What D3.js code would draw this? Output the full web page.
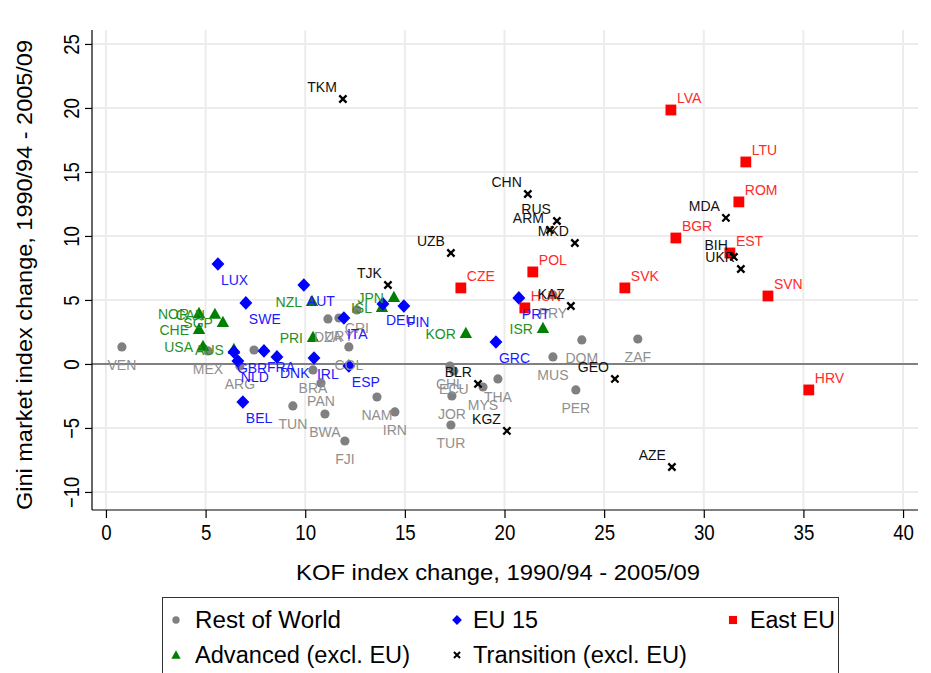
<!DOCTYPE html>
<html>
<head>
<meta charset="utf-8">
<script src="https://cdn.jsdelivr.net/npm/d3@7"></script>
<style>
  html, body { margin: 0; padding: 0; background: #fff; }
  svg { display: block; font-family: "Liberation Sans", Arial, sans-serif; }
</style>
</head>
<body>
<svg id="chart" width="931" height="673"></svg>
<script>
// ---- data: [country, KOF change, Gini market change] ----
const restOfWorld = [
  ["VEN", 0.80, 1.33], ["MEX", 5.12, 1.02], ["ARG", 6.72, -0.16], ["", 7.43, 1.09],
  ["BRA", 10.39, -0.47], ["DZA", 11.14, 3.52], ["URY", 11.69, 3.59], ["CRI", 12.59, 4.22],
  ["COL", 12.19, 1.33], ["PAN", 10.79, -1.48], ["TUN", 9.38, -3.28], ["BWA", 10.99, -3.91],
  ["NAM", 13.60, -2.58], ["IRN", 14.50, -3.75], ["FJI", 11.99, -6.02], ["CHL", 17.26, -0.16],
  ["ECU", 17.46, -0.55], ["JOR", 17.36, -2.50], ["TUR", 17.31, -4.77], ["MYS", 18.92, -1.80],
  ["THA", 19.67, -1.17], ["MUS", 22.43, 0.55], ["DOM", 23.88, 1.88], ["PER", 23.58, -2.03],
  ["ZAF", 26.69, 1.95], ["PRY", 22.43, 5.39]
];
const eu15 = [
  ["LUX", 5.62, 7.81], ["SWE", 7.02, 4.77], ["GBR", 6.42, 0.94], ["NLD", 6.62, 0.23],
  ["FRA", 7.93, 1.02], ["DNK", 8.58, 0.55], ["BEL", 6.87, -2.97], ["AUT", 9.93, 6.17],
  ["IRL", 10.44, 0.47], ["ITA", 11.94, 3.59], ["ESP", 12.19, -0.16], ["DEU", 13.90, 4.69],
  ["FIN", 14.95, 4.53], ["GRC", 19.57, 1.72], ["PRT", 20.72, 5.16]
];
const eastEU = [
  ["CZE", 17.81, 5.94], ["POL", 21.42, 7.19], ["HUN", 21.02, 4.38], ["LVA", 28.35, 19.84],
  ["LTU", 32.11, 15.78], ["ROM", 31.76, 12.66], ["BGR", 28.60, 9.84], ["EST", 31.31, 8.67],
  ["SVK", 26.04, 5.94], ["SVN", 33.22, 5.31], ["HRV", 35.27, -2.03]
];
const advanced = [
  ["NOR", 4.67, 3.98], ["CAN", 5.47, 3.91], ["SGP", 5.87, 3.28], ["CHE", 4.67, 2.73],
  ["USA", 4.87, 1.41], ["AUS", 6.42, 1.17], ["NZL", 10.34, 4.92], ["PRI", 10.39, 2.11],
  ["JPN", 14.45, 5.23], ["ISL", 13.85, 4.45], ["KOR", 18.06, 2.42], ["ISR", 21.93, 2.81]
];
const transition = [
  ["TKM", 11.89, 20.70], ["CHN", 21.17, 13.28], ["RUS", 22.63, 11.17], ["ARM", 22.28, 10.47],
  ["MKD", 23.53, 9.45], ["UZB", 17.31, 8.67], ["TJK", 14.15, 6.17], ["KAZ", 23.33, 4.53],
  ["BLR", 18.67, -1.56], ["KGZ", 20.12, -5.23], ["GEO", 25.54, -1.17], ["AZE", 28.40, -8.05],
  ["MDA", 31.11, 11.41], ["BIH", 31.51, 8.36], ["UKR", 31.86, 7.42]
];
const xTicks = [0, 5, 10, 15, 20, 25, 30, 35, 40];
const yTicks = [-10, -5, 0, 5, 10, 15, 20, 25];
const legendLabels = ["Rest of World", "EU 15", "East EU", "Advanced (excl. EU)", "Transition (excl. EU)"];
const xTitle = "KOF index change, 1990/94 - 2005/09";
const yTitle = "Gini market index change, 1990/94 - 2005/09";

// ---- layout ----
const svg = d3.select("#chart");
const L = 92, R = 918, T = 30, B = 510;
const x = d3.scaleLinear().domain([-0.7, 40.75]).range([L, R]);
const y = d3.scaleLinear().domain([-11.41, 26.09]).range([B, T]);

// gridlines
const grid = svg.append("g");
grid.selectAll("line.v").data(xTicks).join("line")
  .attr("x1", d => x(d)).attr("x2", d => x(d)).attr("y1", T).attr("y2", B)
  .attr("stroke", "#ececec").attr("stroke-width", 2);
grid.selectAll("line.h").data(yTicks.filter(d => d !== 0)).join("line")
  .attr("x1", L).attr("x2", R).attr("y1", d => y(d)).attr("y2", d => y(d))
  .attr("stroke", "#ececec").attr("stroke-width", 2);
// zero line
svg.append("line").attr("x1", L).attr("x2", R).attr("y1", y(0)).attr("y2", y(0))
  .attr("stroke", "#808080").attr("stroke-width", 2);

// axes
const xAxis = d3.axisBottom(x).tickValues(xTicks).tickSize(8).tickPadding(6).tickSizeOuter(0);
const gx = svg.append("g").attr("transform", `translate(0,${B})`).call(xAxis);
gx.select(".domain").attr("d", `M${L},0H${R}`).attr("stroke", "#000").attr("stroke-width", 1.2);
gx.selectAll(".tick line").attr("stroke", "#000").attr("stroke-width", 1.2);
gx.selectAll(".tick text").attr("font-size", 22).attr("fill", "#000")
  .attr("font-family", "Liberation Sans, Arial, sans-serif")
  .attr("textLength", d => String(d).length * 10.4)
  .attr("lengthAdjust", "spacingAndGlyphs");

const yAxis = d3.axisLeft(y).tickValues(yTicks).tickSize(7).tickSizeOuter(0).tickFormat(d3.format("d"));
const gy = svg.append("g").attr("transform", `translate(${L},0)`).call(yAxis);
gy.select(".domain").attr("d", `M0,${T}V${B}`).attr("stroke", "#000").attr("stroke-width", 1.2);
gy.selectAll(".tick line").attr("stroke", "#000").attr("stroke-width", 1.2);
gy.selectAll(".tick text").attr("font-size", 22).attr("fill", "#000")
  .attr("font-family", "Liberation Sans, Arial, sans-serif")
  .attr("x", 0).attr("dy", 0)
  .attr("text-anchor", "middle")
  .attr("transform", "translate(-13,0) rotate(-90)")
  .attr("textLength", d => String(d).length * 10.4)
  .attr("lengthAdjust", "spacingAndGlyphs");

// axis titles
svg.append("text").attr("x", 498).attr("y", 580).attr("text-anchor", "middle")
  .attr("font-size", 22).attr("fill", "#000")
  .attr("textLength", 404).attr("lengthAdjust", "spacingAndGlyphs").text(xTitle);
svg.append("text").attr("transform", `translate(32,275) rotate(-90)`).attr("text-anchor", "middle")
  .attr("font-size", 22).attr("fill", "#000")
  .attr("textLength", 470).attr("lengthAdjust", "spacingAndGlyphs").text(yTitle);

// ---- markers ----
const styles = {
  row:   { color: "#808080", label: "#8f8f8f" },
  eu15:  { color: "#0000ff", label: "#1a1aff" },
  east:  { color: "#ff0000", label: "#ff2a2a" },
  adv:   { color: "#008000", label: "#1f8f1f" },
  trans: { color: "#000000", label: "#111111" }
};
function marker(g, type, cx, cy, s) {
  const c = styles[type].color;
  if (type === "row") {
    g.append("circle").attr("cx", cx).attr("cy", cy).attr("r", 4.6 * s).attr("fill", c);
  } else if (type === "eu15") {
    const r = 6.8 * s;
    g.append("path").attr("d", `M${cx},${cy - r}L${cx + r * 0.95},${cy}L${cx},${cy + r}L${cx - r * 0.95},${cy}Z`).attr("fill", c);
  } else if (type === "east") {
    const h = 5.4 * s;
    g.append("rect").attr("x", cx - h).attr("y", cy - h).attr("width", 2 * h).attr("height", 2 * h).attr("fill", c);
  } else if (type === "adv") {
    const h = 6.2 * s;
    g.append("path").attr("d", `M${cx},${cy - h}L${cx + h},${cy + h * 0.8}L${cx - h},${cy + h * 0.8}Z`).attr("fill", c);
  } else {
    const h = 3.6 * s;
    g.append("path").attr("d", `M${cx - h},${cy - h}L${cx + h},${cy + h}M${cx - h},${cy + h}L${cx + h},${cy - h}`)
      .attr("stroke", c).attr("stroke-width", 2.3 * s).attr("fill", "none");
  }
}
// label placement (clock positions): row=6, eu15=4, east=1, trans=11, adv=9
function label(g, type, cx, cy, txt) {
  if (!txt) return;
  let ax, ay, anchor;
  if (type === "row")   { ax = cx;      ay = cy + 23; anchor = "middle"; }
  if (type === "eu15")  { ax = cx + 3;  ay = cy + 21; anchor = "start"; }
  if (type === "east")  { ax = cx + 6;  ay = cy - 7;  anchor = "start"; }
  if (type === "trans") { ax = cx - 6;  ay = cy - 7;  anchor = "end"; }
  if (type === "adv")   { ax = cx - 10; ay = cy + 6;  anchor = "end"; }
  g.append("text").attr("x", ax).attr("y", ay).attr("text-anchor", anchor)
    .attr("font-size", 14).attr("fill", styles[type].label).text(txt);
}
const groups = [
  ["row", restOfWorld], ["adv", advanced], ["eu15", eu15], ["east", eastEU], ["trans", transition]
];
const pts = svg.append("g");
groups.forEach(([type, data]) => {
  data.forEach(d => marker(pts, type, x(d[1]), y(d[2]), 1));
});
const labs = svg.append("g");
groups.forEach(([type, data]) => {
  data.forEach(d => label(labs, type, x(d[1]), y(d[2]), d[0]));
});

// ---- legend ----
const lg = svg.append("g");
lg.append("rect").attr("x", 162.5).attr("y", 597.5).attr("width", 676).attr("height", 100)
  .attr("fill", "#fff").attr("stroke", "#333").attr("stroke-width", 1);
const legendItems = [
  ["row", 176, 620, 195, 146], ["eu15", 457, 620, 473, 65], ["east", 733, 620, 750, 85],
  ["adv", 176, 655, 195, 215], ["trans", 457, 655, 473, 214]
];
legendItems.forEach((it, i) => {
  marker(lg, it[0], it[1], it[2], it[0] === "row" ? 0.8 : (it[0] === "trans" ? 0.85 : 0.75));
  lg.append("text").attr("x", it[3]).attr("y", it[2] + 8).attr("font-size", 23).attr("fill", "#000")
    .attr("textLength", it[4]).attr("lengthAdjust", "spacingAndGlyphs")
    .text(legendLabels[i]);
});
</script>
</body>
</html>
